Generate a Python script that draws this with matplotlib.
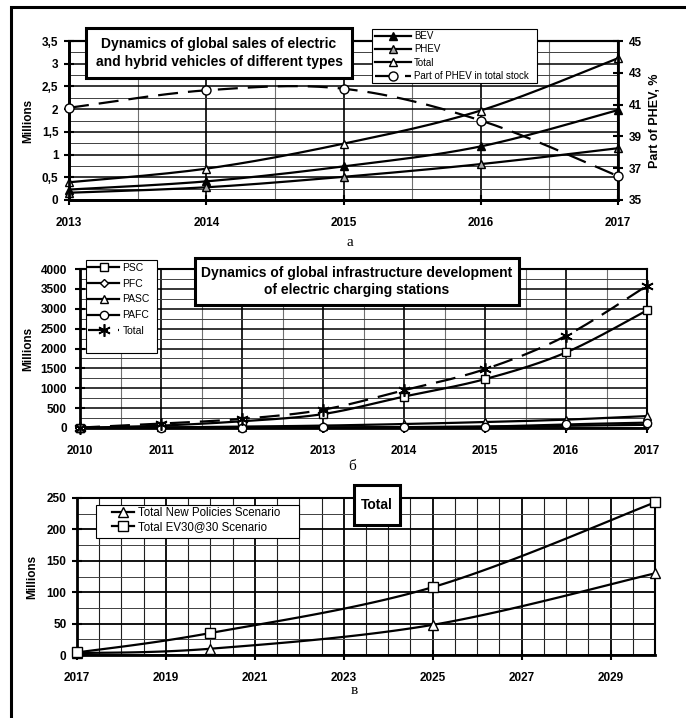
import numpy as np
import matplotlib
matplotlib.use('Agg')
import matplotlib.pyplot as plt
from matplotlib.ticker import MultipleLocator, FixedLocator, FuncFormatter
from matplotlib.patches import Rectangle
from matplotlib.lines import Line2D

plt.rcParams['font.family'] = ['Liberation Sans', 'DejaVu Sans']

W, H, DPI = 686, 718, 100

# ---------------- data ----------------
years_a = [2013, 2014, 2015, 2016, 2017]
bev = [0.23, 0.41, 0.74, 1.18, 1.98]
phev = [0.16, 0.28, 0.51, 0.79, 1.14]
total_a = [0.39, 0.69, 1.24, 1.97, 3.12]
phev_share = [40.8, 41.9, 42.0, 40.0, 36.5]

years_b = [2010, 2011, 2012, 2013, 2014, 2015, 2016, 2017]
psc = [5, 60, 170, 350, 790, 1230, 1900, 2960]
pfc = [0, 2, 5, 10, 20, 35, 55, 80]
pasc = [2, 15, 35, 60, 100, 150, 210, 300]
pafc = [0, 5, 10, 15, 25, 35, 90, 135]
total_b = [10, 110, 230, 460, 950, 1480, 2320, 3580]

years_c = [2017, 2020, 2025, 2030]
nps = [3, 10, 48, 130]
ev3030 = [4, 35, 108, 243]

# ---------------- helpers ----------------
def smooth(x, y, n=40):
    P = np.column_stack([np.asarray(x, float), np.asarray(y, float)])
    m = len(P)
    out = []
    t = np.linspace(0, 1, n)[:, None]
    for i in range(m - 1):
        p0 = P[i - 1] if i > 0 else P[i]
        p1, p2 = P[i], P[i + 1]
        p3 = P[i + 2] if i + 2 < m else P[i + 1]
        c1 = p1 + (p2 - p0) / 6.0
        c2 = p2 - (p3 - p1) / 6.0
        seg = (1 - t) ** 3 * p1 + 3 * (1 - t) ** 2 * t * c1 + 3 * (1 - t) * t ** 2 * c2 + t ** 3 * p2
        out.append(seg if i == 0 else seg[1:])
    S = np.vstack(out)
    return S[:, 0], S[:, 1]


fig = plt.figure(figsize=(W / DPI, H / DPI), dpi=DPI)


def px_axes(x0, y0, x1, y1):
    return fig.add_axes([x0 / W, 1 - y1 / H, (x1 - x0) / W, (y1 - y0) / H])


def fx(x):
    return x / W


def fy(y):
    return 1 - y / H


LW = 1.6
DASH = (9, 4.5)
TICKFS = 8.5


def series(ax, x, y, marker, mfc, ms=6, dashed=False, mew=1.0):
    sx, sy = smooth(x, y)
    kw = dict(color='black', lw=LW, zorder=3, solid_capstyle='butt')
    if dashed:
        kw['dashes'] = DASH
    ax.plot(sx, sy, **kw)
    ax.plot(x, y, ls='none', marker=marker, mfc=mfc, mec='black', ms=ms,
            mew=mew, zorder=4, clip_on=False)
    h = Line2D([], [], color='black', lw=LW, marker=marker, mfc=mfc,
               mec='black', ms=ms, mew=mew)
    if dashed:
        h.set_dashes(DASH)
    return h


def style_axes(ax):
    for s in ax.spines.values():
        s.set_color('black')
        s.set_linewidth(1.5)
    ax.spines['left'].set_linewidth(2.0)
    ax.spines['bottom'].set_linewidth(2.0)
    ax.tick_params(which='major', direction='inout', length=7, width=1.5,
                   labelsize=TICKFS, color='black')
    ax.tick_params(which='minor', length=0)
    for lab in ax.get_xticklabels() + ax.get_yticklabels():
        lab.set_fontweight('bold')


def set_ylab(ax, text, xpix, x0, width, fs=8.5):
    ax.set_ylabel(text, fontsize=fs, fontweight='bold')
    ax.yaxis.label.set_va('center')
    ax.yaxis.label.set_ha('center')
    ax.yaxis.set_label_coords((xpix - x0) / width, 0.5)


def comma_fmt(v, p):
    return ('%g' % v).replace('.', ',')


def title_box(x0, y0, x1, y1, text, fs=10):
    fig.add_artist(Rectangle((fx(x0), fy(y1)), (x1 - x0) / W, (y1 - y0) / H,
                             transform=fig.transFigure, fc='white', ec='black',
                             lw=2.2, zorder=6))
    fig.text(fx((x0 + x1) / 2), fy((y0 + y1) / 2), text, ha='center', va='center',
             fontsize=fs, fontweight='bold', zorder=7, linespacing=1.3)


def legend_box(x0, y0, x1, y1, ax_x, ax_y, handles, labels, fs, hl, ls, tp):
    fig.add_artist(Rectangle((fx(x0), fy(y1)), (x1 - x0) / W, (y1 - y0) / H,
                             transform=fig.transFigure, fc='white', ec='black',
                             lw=0.8, zorder=4))
    leg = fig.legend(handles, labels, loc='upper left',
                     bbox_to_anchor=(fx(ax_x), fy(ax_y)), frameon=False,
                     fontsize=fs, handlelength=hl, labelspacing=ls,
                     handletextpad=tp, borderpad=0, borderaxespad=0)
    leg.set_zorder(5)
    return leg


# ---------------- figure border (top & left) ----------------
fig.add_artist(Rectangle((fx(11), fy(760)), 760 / W, (760 - 7) / H,
                         transform=fig.transFigure, fill=False, ec='black',
                         lw=2.2, zorder=10))

# ---------------- chart a ----------------
ax = px_axes(69, 41, 618, 200)
ax.set_xlim(2013, 2017)
ax.set_ylim(0, 3.5)
ax.xaxis.set_major_locator(MultipleLocator(1))
ax.xaxis.set_minor_locator(MultipleLocator(0.5))
ax.yaxis.set_major_locator(MultipleLocator(0.5))
ax.yaxis.set_minor_locator(MultipleLocator(0.25))
ax.yaxis.set_major_formatter(FuncFormatter(comma_fmt))
ax.xaxis.grid(True, which='major', color='black', lw=1.2)
ax.xaxis.grid(True, which='minor', color='#707070', lw=0.8)
ax.yaxis.grid(True, which='major', color='black', lw=1.1)
ax.yaxis.grid(True, which='minor', color='#404040', lw=0.7)
ax.tick_params(axis='y', pad=4)
ax.tick_params(axis='x', pad=9)
h_bev = series(ax, years_a, bev, '^', 'black')
h_phev = series(ax, years_a, phev, '^', '#a8a8a8')
h_tot = series(ax, years_a, total_a, '^', 'white')
style_axes(ax)
set_ylab(ax, 'Millions', 28, 69, 549)

ax2 = ax.twinx()
ax2.set_ylim(35, 45)
ax2.yaxis.set_major_locator(FixedLocator([35, 37, 39, 41, 43, 45]))
h_share = series(ax2, years_a, phev_share, 'o', 'white', ms=6.5, dashed=True)
style_axes(ax2)
ax2.spines['right'].set_linewidth(2.0)
ax2.tick_params(axis='y', pad=4)
set_ylab(ax2, 'Part of PHEV, %', 655, 69, 549, fs=9)

title_box(86, 28, 352, 78,
          'Dynamics of global sales of electric\nand hybrid vehicles of different types')
legend_box(372, 29, 537, 83, 375, 31,
           [h_bev, h_phev, h_tot, h_share],
           ['BEV', 'PHEV', 'Total', 'Part of PHEV in total stock'],
           fs=7, hl=3.7, ls=0.35, tp=0.3)
fig.text(fx(350), fy(242), 'а', family='Liberation Serif', fontsize=11,
         ha='center', va='center')

# ---------------- chart b ----------------
bx = px_axes(80, 269, 647, 428)
bx.set_xlim(2010, 2017)
bx.set_ylim(0, 4000)
bx.xaxis.set_major_locator(MultipleLocator(1))
bx.xaxis.set_minor_locator(MultipleLocator(0.5))
bx.yaxis.set_major_locator(MultipleLocator(500))
bx.yaxis.set_minor_locator(MultipleLocator(250))
bx.xaxis.grid(True, which='major', color='black', lw=1.2)
bx.xaxis.grid(True, which='minor', color='#707070', lw=0.8)
bx.yaxis.grid(True, which='major', color='black', lw=1.1)
bx.yaxis.grid(True, which='minor', color='#404040', lw=0.7)
bx.tick_params(axis='y', pad=6)
bx.tick_params(axis='x', pad=9)
h1 = series(bx, years_b, psc, 's', 'white', ms=6)
h2 = series(bx, years_b, pfc, 'D', 'white', ms=4.5)
h3 = series(bx, years_b, pasc, '^', 'white', ms=6)
h4 = series(bx, years_b, pafc, 'o', 'white', ms=6)
h5 = series(bx, years_b, total_b, (6, 2, 0), 'white', ms=9, dashed=True, mew=1.2)
style_axes(bx)
set_ylab(bx, 'Millions', 28, 80, 567)

title_box(195, 258, 519, 305,
          'Dynamics of global infrastructure development\nof electric charging stations')
legend_box(86, 260, 157, 353, 88, 263,
           [h1, h2, h3, h4, h5], ['PSC', 'PFC', 'PASC', 'PAFC', 'Total'],
           fs=7.5, hl=3.0, ls=0.55, tp=0.3)
fig.text(fx(352), fy(466), 'б', family='Liberation Serif', fontsize=11,
         ha='center', va='center')

# ---------------- chart c ----------------
cx = px_axes(77, 498, 655, 655)
cx.set_xlim(2017, 2030)
cx.set_ylim(0, 250)
cx.xaxis.set_major_locator(FixedLocator(list(range(2017, 2030, 2))))
cx.xaxis.set_minor_locator(FixedLocator(list(np.arange(2017, 2030.01, 0.5))))
cx.yaxis.set_major_locator(MultipleLocator(50))
cx.yaxis.set_minor_locator(MultipleLocator(25))
cx.xaxis.grid(True, which='major', color='black', lw=1.3)
cx.xaxis.grid(True, which='minor', color='#202020', lw=0.8)
cx.yaxis.grid(True, which='major', color='black', lw=1.3)
cx.yaxis.grid(True, which='minor', color='#404040', lw=0.7)
cx.tick_params(axis='y', pad=4)
cx.tick_params(axis='x', pad=9)
g1 = series(cx, years_c, nps, '^', 'white', ms=6.5)
g2 = series(cx, years_c, ev3030, 's', 'white', ms=6.5)
style_axes(cx)
set_ylab(cx, 'Millions', 32, 77, 578)

title_box(354, 485, 400, 525, 'Total')
legend_box(96, 505, 299, 538, 112, 507,
           [g1, g2], ['Total New Policies Scenario', 'Total EV30@30 Scenario'],
           fs=8.3, hl=1.9, ls=0.2, tp=0.35)
fig.text(fx(354), fy(690), 'в', family='Liberation Serif', fontsize=11,
         ha='center', va='center')

fig.savefig('out.png', dpi=DPI)
